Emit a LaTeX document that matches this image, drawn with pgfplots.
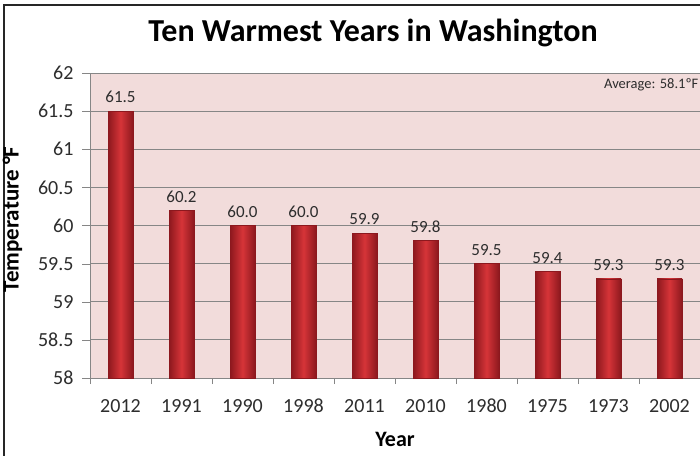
\documentclass[border=0pt]{standalone}
\usepackage{fontspec}
\setmainfont{Carlito}
\usepackage{pgfplots}
\pgfplotsset{compat=1.18}
\definecolor{bgpink}{RGB}{242,220,219}
\definecolor{gridgray}{RGB}{134,134,134}
\definecolor{bardark}{RGB}{140,24,30}
\definecolor{barlight}{RGB}{214,52,56}
\definecolor{txt}{RGB}{45,45,45}
\pgfplotsset{warmbar/.style={bar shift=0pt, draw=bardark, line width=0.5pt,
    left color=bardark, right color=bardark, middle color=barlight}}
\begin{document}
\begin{tikzpicture}
\useasboundingbox (0pt,0pt) rectangle (700pt,455pt);
\clip (0pt,0pt) rectangle (700pt,455pt);
\fill[white] (0pt,0pt) rectangle (700pt,455pt);
% chart frame (cut off at right and bottom)
\draw[line width=2pt, black!85] (3.5pt,-5pt) -- (3.5pt,450pt) -- (710pt,450pt);
\begin{axis}[
    at={(90pt,77pt)}, anchor=south west,
    scale only axis, width=610pt, height=305pt,
    ybar, bar width=25pt,
    xmin=-0.5, xmax=9.5, ymin=58, ymax=62,
    ytick distance=0.5,
    xtick={0,...,9},
    xticklabels={2012,1991,1990,1998,2011,2010,1980,1975,1973,2002},
    minor xtick={-0.5,0.5,...,9.5},
    axis x line*=bottom, axis y line*=left,
    axis line style={gridgray},
    tick align=outside,
    major tick length=8pt, minor tick length=6pt,
    every major x tick/.append style={draw=none},
    tick style={gridgray},
    ymajorgrids,
    major grid style={gridgray, line width=0.8pt},
    axis background/.style={fill=bgpink},
    /pgf/number format/assume math mode=true,
    ticklabel style={font=\fontsize{20}{23}\selectfont, text=txt},
    xticklabel style={anchor=base, yshift=-26pt},
    yticklabel style={xshift=-5pt},
    title={Ten Warmest Years in Washington},
    title style={font=\bfseries\fontsize{32}{38}\selectfont, at={(axis description cs:0.464,1.082)}, anchor=base},
    xlabel={Year},
    xlabel style={font=\bfseries\fontsize{22}{26}\selectfont, at={(axis description cs:0.5,-0.223)}, anchor=base},
    ylabel={Temperature °F},
    ylabel style={font=\bfseries\fontsize{23}{27}\selectfont, at={(axis description cs:-0.127,0.52)}, anchor=center},
    nodes near coords={\pgfmathprintnumber[fixed,fixed zerofill,precision=1]{\pgfplotspointmeta}},
    nodes near coords style={font=\fontsize{17}{20}\selectfont, text=txt, yshift=4.5pt},
]
% one plot per bar so that each bar gets its own shading
\addplot[warmbar] coordinates {(0,61.5)};
\addplot[warmbar] coordinates {(1,60.2)};
\addplot[warmbar] coordinates {(2,60.0)};
\addplot[warmbar] coordinates {(3,60.0)};
\addplot[warmbar] coordinates {(4,59.9)};
\addplot[warmbar] coordinates {(5,59.8)};
\addplot[warmbar] coordinates {(6,59.5)};
\addplot[warmbar] coordinates {(7,59.4)};
\addplot[warmbar] coordinates {(8,59.3)};
\addplot[warmbar] coordinates {(9,59.3)};
\node[anchor=base east, font=\fontsize{14.5}{17}\selectfont, text=txt]
    at (axis description cs:1.003,0.948) {Average: 58.1ºF};
\end{axis}
\end{tikzpicture}
\end{document}
